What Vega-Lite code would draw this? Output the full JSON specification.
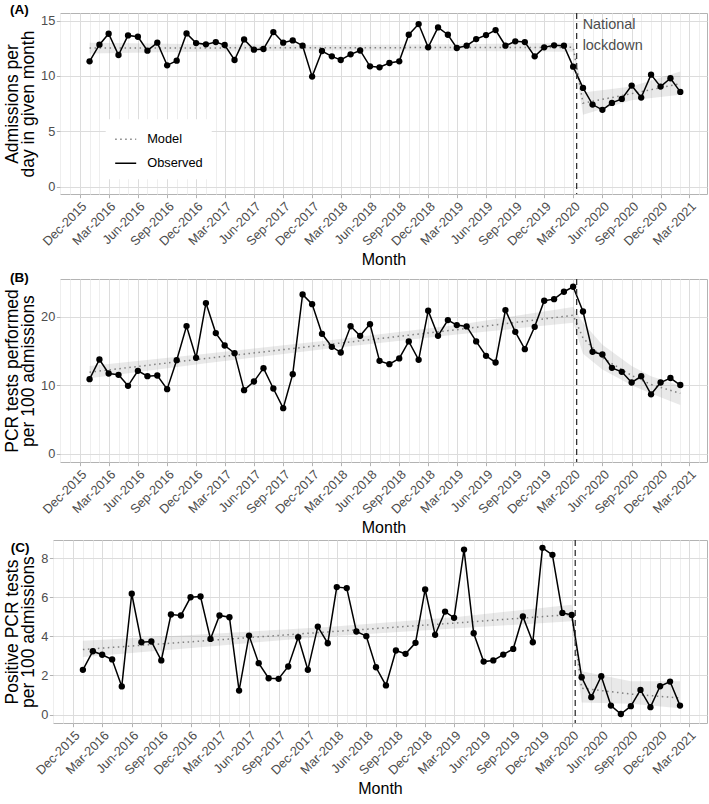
{
  "$schema": "https://vega.github.io/schema/vega-lite/v6.json",
  "padding": {"left": 2, "top": 2, "right": 0, "bottom": 0},
  "background": "white",
  "config": {
    "font": "Liberation Sans",
    "view": {"stroke": "#b3b3b3", "strokeWidth": 1},
    "axis": {
      "labelFont": "Liberation Sans", "labelFontSize": 12.8, "labelColor": "#4d4d4d",
      "titleFont": "Liberation Sans", "titleFontSize": 16, "titleFontWeight": "normal", "titleColor": "#000000",
      "domain": false, "tickColor": "#b3b3b3", "tickSize": 3.7, "tickWidth": 1,
      "labelOverlap": false, "labelFlush": false
    },
    "axisY": {"titleFontSize": 17.5, "titleLineHeight": 16.5, "titlePadding": 3, "labelPadding": 1.5},
    "title": {"font": "Liberation Sans", "fontSize": 13.5, "fontWeight": "bold", "color": "#000000", "anchor": "start", "frame": "group", "baseline": "middle"}
  },
  "datasets": {
    "obs": [
      {"date": "2016-01-01", "admissions": 11.32, "tests": 10.87, "positive": 2.29},
      {"date": "2016-02-01", "admissions": 12.82, "tests": 13.75, "positive": 3.24},
      {"date": "2016-03-01", "admissions": 13.81, "tests": 11.7, "positive": 3.06},
      {"date": "2016-04-01", "admissions": 11.89, "tests": 11.51, "positive": 2.82},
      {"date": "2016-05-01", "admissions": 13.66, "tests": 9.9, "positive": 1.44},
      {"date": "2016-06-01", "admissions": 13.54, "tests": 12.09, "positive": 6.18},
      {"date": "2016-07-01", "admissions": 12.28, "tests": 11.31, "positive": 3.7},
      {"date": "2016-08-01", "admissions": 13.0, "tests": 11.41, "positive": 3.74},
      {"date": "2016-09-01", "admissions": 10.96, "tests": 9.41, "positive": 2.77},
      {"date": "2016-10-01", "admissions": 11.38, "tests": 13.65, "positive": 5.12},
      {"date": "2016-11-01", "admissions": 13.84, "tests": 18.62, "positive": 5.07},
      {"date": "2016-12-01", "admissions": 12.97, "tests": 13.99, "positive": 6.0},
      {"date": "2017-01-01", "admissions": 12.85, "tests": 21.98, "positive": 6.04},
      {"date": "2017-02-01", "admissions": 13.06, "tests": 17.6, "positive": 3.87},
      {"date": "2017-03-01", "admissions": 12.79, "tests": 15.79, "positive": 5.07},
      {"date": "2017-04-01", "admissions": 11.44, "tests": 14.67, "positive": 4.98},
      {"date": "2017-05-01", "admissions": 13.3, "tests": 9.27, "positive": 1.23},
      {"date": "2017-06-01", "admissions": 12.37, "tests": 10.53, "positive": 4.04},
      {"date": "2017-07-01", "admissions": 12.43, "tests": 12.48, "positive": 2.63},
      {"date": "2017-08-01", "admissions": 13.96, "tests": 9.51, "positive": 1.86},
      {"date": "2017-09-01", "admissions": 13.0, "tests": 6.64, "positive": 1.83},
      {"date": "2017-10-01", "admissions": 13.21, "tests": 11.6, "positive": 2.46},
      {"date": "2017-11-01", "admissions": 12.73, "tests": 23.25, "positive": 3.96},
      {"date": "2017-12-01", "admissions": 9.94, "tests": 21.83, "positive": 2.29},
      {"date": "2018-01-01", "admissions": 12.25, "tests": 17.5, "positive": 4.5},
      {"date": "2018-02-01", "admissions": 11.77, "tests": 15.6, "positive": 3.65},
      {"date": "2018-03-01", "admissions": 11.44, "tests": 14.77, "positive": 6.52},
      {"date": "2018-04-01", "admissions": 11.95, "tests": 18.6, "positive": 6.47},
      {"date": "2018-05-01", "admissions": 12.3, "tests": 17.2, "positive": 4.25},
      {"date": "2018-06-01", "admissions": 10.87, "tests": 18.91, "positive": 4.01},
      {"date": "2018-07-01", "admissions": 10.78, "tests": 13.55, "positive": 2.42},
      {"date": "2018-08-01", "admissions": 11.17, "tests": 13.07, "positive": 1.49},
      {"date": "2018-09-01", "admissions": 11.32, "tests": 13.9, "positive": 3.28},
      {"date": "2018-10-01", "admissions": 13.72, "tests": 16.38, "positive": 3.11},
      {"date": "2018-11-01", "admissions": 14.68, "tests": 13.7, "positive": 3.67},
      {"date": "2018-12-01", "admissions": 12.58, "tests": 20.86, "positive": 6.4},
      {"date": "2019-01-01", "admissions": 14.38, "tests": 17.2, "positive": 4.08},
      {"date": "2019-02-01", "admissions": 13.72, "tests": 19.5, "positive": 5.27},
      {"date": "2019-03-01", "admissions": 12.52, "tests": 18.77, "positive": 4.95},
      {"date": "2019-04-01", "admissions": 12.73, "tests": 18.57, "positive": 8.44},
      {"date": "2019-05-01", "admissions": 13.33, "tests": 16.38, "positive": 4.16},
      {"date": "2019-06-01", "admissions": 13.69, "tests": 14.28, "positive": 2.71},
      {"date": "2019-07-01", "admissions": 14.14, "tests": 13.31, "positive": 2.77},
      {"date": "2019-08-01", "admissions": 12.73, "tests": 20.96, "positive": 3.07},
      {"date": "2019-09-01", "admissions": 13.12, "tests": 17.79, "positive": 3.36},
      {"date": "2019-10-01", "admissions": 13.06, "tests": 15.26, "positive": 5.02},
      {"date": "2019-11-01", "admissions": 11.77, "tests": 18.52, "positive": 3.7},
      {"date": "2019-12-01", "admissions": 12.58, "tests": 22.32, "positive": 8.53},
      {"date": "2020-01-01", "admissions": 12.76, "tests": 22.56, "positive": 8.17},
      {"date": "2020-02-01", "admissions": 12.73, "tests": 23.64, "positive": 5.2},
      {"date": "2020-03-01", "admissions": 10.84, "tests": 24.37, "positive": 5.1},
      {"date": "2020-04-01", "admissions": 8.92, "tests": 20.76, "positive": 1.91},
      {"date": "2020-05-01", "admissions": 7.42, "tests": 14.87, "positive": 0.89},
      {"date": "2020-06-01", "admissions": 6.94, "tests": 14.48, "positive": 1.96},
      {"date": "2020-07-01", "admissions": 7.57, "tests": 12.53, "positive": 0.46},
      {"date": "2020-08-01", "admissions": 7.93, "tests": 11.95, "positive": 0.03},
      {"date": "2020-09-01", "admissions": 9.13, "tests": 10.39, "positive": 0.43},
      {"date": "2020-10-01", "admissions": 8.05, "tests": 11.3, "positive": 1.26},
      {"date": "2020-11-01", "admissions": 10.12, "tests": 8.66, "positive": 0.38},
      {"date": "2020-12-01", "admissions": 9.04, "tests": 10.39, "positive": 1.45},
      {"date": "2021-01-01", "admissions": 9.79, "tests": 11.04, "positive": 1.69},
      {"date": "2021-02-01", "admissions": 8.56, "tests": 10.02, "positive": 0.46}
    ],
    "modelA": [
      {"date": "2016-01-01", "fit": 12.52, "lo": 12.03, "hi": 13.0},
      {"date": "2017-01-01", "fit": 12.53, "lo": 12.2, "hi": 12.86},
      {"date": "2018-02-01", "fit": 12.55, "lo": 12.3, "hi": 12.8},
      {"date": "2019-03-01", "fit": 12.56, "lo": 12.25, "hi": 12.87},
      {"date": "2020-03-01", "fit": 12.58, "lo": 12.18, "hi": 12.98},
      {"date": "2020-04-01", "fit": 7.55, "lo": 6.5, "hi": 8.5},
      {"date": "2020-09-01", "fit": 8.4, "lo": 7.8, "hi": 9.05},
      {"date": "2021-02-01", "fit": 9.3, "lo": 8.3, "hi": 10.4}
    ],
    "modelB": [
      {"date": "2016-01-01", "fit": 11.9, "lo": 11.0, "hi": 12.8},
      {"date": "2017-01-01", "fit": 13.9, "lo": 13.2, "hi": 14.6},
      {"date": "2018-02-01", "fit": 16.0, "lo": 15.4, "hi": 16.6},
      {"date": "2019-03-01", "fit": 18.1, "lo": 17.4, "hi": 18.8},
      {"date": "2020-03-01", "fit": 20.2, "lo": 19.1, "hi": 21.4},
      {"date": "2020-04-01", "fit": 16.9, "lo": 14.6, "hi": 19.1},
      {"date": "2020-06-01", "fit": 14.0, "lo": 12.3, "hi": 15.9},
      {"date": "2020-09-01", "fit": 11.4, "lo": 10.0, "hi": 12.8},
      {"date": "2020-11-01", "fit": 10.1, "lo": 8.8, "hi": 11.3},
      {"date": "2021-02-01", "fit": 8.8, "lo": 7.1, "hi": 9.9}
    ],
    "modelC": [
      {"date": "2016-01-01", "fit": 3.33, "lo": 2.95, "hi": 3.78},
      {"date": "2017-01-01", "fit": 3.76, "lo": 3.45, "hi": 4.1},
      {"date": "2018-02-01", "fit": 4.23, "lo": 4.0, "hi": 4.48},
      {"date": "2019-03-01", "fit": 4.68, "lo": 4.4, "hi": 4.98},
      {"date": "2020-03-01", "fit": 5.12, "lo": 4.78, "hi": 5.62},
      {"date": "2020-04-01", "fit": 1.35, "lo": 0.62, "hi": 2.22},
      {"date": "2020-09-01", "fit": 1.05, "lo": 0.55, "hi": 1.7},
      {"date": "2021-02-01", "fit": 0.85, "lo": 0.32, "hi": 1.7}
    ],
    "lockdown": [{"date": "2020-03-12"}]
  },
  "bounds": "full",
  "spacing": 1,
  "resolve": {"scale": {"color": "independent"}, "legend": {"color": "independent"}},
  "vconcat": [
    {
      "bounds": "flush",
      "spacing": 0,
      "resolve": {"scale": {"color": "independent"}, "legend": {"color": "independent"}},
      "hconcat": [
        {"width": 7, "height": 10, "data": {"values": []}, "mark": "point", "view": {"stroke": null}},
        {
          "width": 647, "height": 181,
          "title": {"text": "(A)", "dx": -50, "offset": -4.25},
          "encoding": {
            "x": {"field": "date", "type": "temporal", "title": "Month",
              "scale": {"type": "utc", "domain": [{"year": 2015, "month": 9, "date": 30, "utc": true}, {"year": 2021, "month": 4, "date": 26, "utc": true}]},
              "axis": {"tickCount": {"interval": "month", "step": 1},
                "labelExpr": "utcmonth(datum.value) % 3 == 2 ? utcFormat(datum.value, '%b-%Y') : ''",
                "labelAngle": -45, "labelAlign": "right", "labelBaseline": "top", "labelPadding": 2, "titlePadding": 4,
                "tickOpacity": {"condition": {"test": "utcmonth(datum.value) % 3 != 2", "value": 0}, "value": 1},
                "gridColor": {"condition": {"test": "utcmonth(datum.value) % 3 == 2", "value": "#dcdcdc"}, "value": "#eeeeee"}}}
          },
          "layer": [
            {
              "data": {"name": "modelA"},
              "mark": {"type": "area", "color": "#999999", "opacity": 0.22},
              "encoding": {
                "y": {"field": "lo", "type": "quantitative", "title": ["Admissions per", "day in given month"],
                  "scale": {"domain": [-0.65, 15.68], "nice": false, "zero": false},
                  "axis": {
                    "values": [0, 2.5, 5, 7.5, 10, 12.5, 15],
                    "labelExpr": "datum.value % 5 == 0 ? datum.label : ''",
                    "tickOpacity": {"condition": {"test": "datum.value % 5 != 0", "value": 0}, "value": 1},
                    "gridColor": {"condition": {"test": "datum.value % 5 == 0", "value": "#dcdcdc"}, "value": "#eeeeee"}}},
                "y2": {"field": "hi"}
              }
            },
            {
              "data": {"name": "modelA"},
              "mark": {"type": "line", "strokeDash": [1.5, 3.5], "strokeWidth": 1.5},
              "encoding": {
                "y": {"field": "fit", "type": "quantitative", "title": ["Admissions per", "day in given month"]},
                "color": {"datum": "Model", "type": "nominal",
                  "scale": {"domain": ["Model", "Observed"], "range": ["#7f7f7f", "#000000"]},
                  "legend": {"orient": "none", "legendX": 45.7, "legendY": 106.3, "title": null, "fillColor": "white", "padding": 8.5,
                    "symbolType": "stroke", "symbolSize": 441, "symbolStrokeWidth": 1.5,
                    "labelFont": "Liberation Sans", "labelFontSize": 12.8, "labelColor": "#000000", "labelOffset": 10, "rowPadding": 5,
                    "encode": {"symbols": {"update": {"strokeDash": {"signal": "datum.value === 'Model' ? [1.5, 3.5] : [1, 0]"}}}}}}
              }
            },
            {
              "data": {"name": "obs"},
              "mark": {"type": "line", "strokeWidth": 1.5},
              "encoding": {
                "y": {"field": "admissions", "type": "quantitative", "title": ["Admissions per", "day in given month"]},
                "color": {"datum": "Observed", "type": "nominal"}
              }
            },
            {
              "data": {"name": "obs"},
              "mark": {"type": "point", "filled": true, "size": 40, "opacity": 1, "color": "#000000"},
              "encoding": {
                "y": {"field": "admissions", "type": "quantitative", "title": ["Admissions per", "day in given month"]}
              }
            },
            {
              "data": {"name": "lockdown"},
              "mark": {"type": "rule", "strokeDash": [6, 4], "color": "#333333", "strokeWidth": 1.3},
              "encoding": {}
            },
            {
              "data": {"name": "lockdown"},
              "mark": {"type": "text", "text": ["National", "lockdown"], "align": "left", "baseline": "alphabetic", "dx": 6, "font": "Liberation Sans", "fontSize": 14.4, "lineHeight": 21, "color": "#4d4d4d"},
              "encoding": {
                "y": {"datum": 14.2, "type": "quantitative", "title": ["Admissions per", "day in given month"]}
              }
            }
          ]
        }
      ]
    },
    {
      "bounds": "flush",
      "spacing": 0,
      "hconcat": [
        {"width": 7, "height": 10, "data": {"values": []}, "mark": "point", "view": {"stroke": null}},
        {
          "width": 647, "height": 183,
          "title": {"text": "(B)", "dx": -50, "offset": -6.25},
          "encoding": {
            "x": {"field": "date", "type": "temporal", "title": "Month",
              "scale": {"type": "utc", "domain": [{"year": 2015, "month": 9, "date": 30, "utc": true}, {"year": 2021, "month": 4, "date": 26, "utc": true}]},
              "axis": {"tickCount": {"interval": "month", "step": 1},
                "labelExpr": "utcmonth(datum.value) % 3 == 2 ? utcFormat(datum.value, '%b-%Y') : ''",
                "labelAngle": -45, "labelAlign": "right", "labelBaseline": "top", "labelPadding": 2, "titlePadding": 4,
                "tickOpacity": {"condition": {"test": "utcmonth(datum.value) % 3 != 2", "value": 0}, "value": 1},
                "gridColor": {"condition": {"test": "utcmonth(datum.value) % 3 == 2", "value": "#dcdcdc"}, "value": "#eeeeee"}}}
          },
          "layer": [
            {
              "data": {"name": "modelB"},
              "mark": {"type": "area", "color": "#999999", "opacity": 0.22},
              "encoding": {
                "y": {"field": "lo", "type": "quantitative", "title": ["PCR tests performed", "per 100 admissions"],
                  "scale": {"domain": [-1.22, 25.5], "nice": false, "zero": false},
                  "axis": {
                    "values": [0, 2.5, 5, 7.5, 10, 12.5, 15, 17.5, 20, 22.5, 25],
                    "labelExpr": "datum.value % 5 == 0 ? datum.label : ''",
                    "tickOpacity": {"condition": {"test": "datum.value % 5 != 0", "value": 0}, "value": 1},
                    "gridColor": {"condition": {"test": "datum.value % 5 == 0", "value": "#dcdcdc"}, "value": "#eeeeee"}}},
                "y2": {"field": "hi"}
              }
            },
            {
              "data": {"name": "modelB"},
              "mark": {"type": "line", "strokeDash": [1.5, 3.5], "strokeWidth": 1.5, "color": "#7f7f7f"},
              "encoding": {"y": {"field": "fit", "type": "quantitative", "title": ["PCR tests performed", "per 100 admissions"]}}
            },
            {
              "data": {"name": "obs"},
              "mark": {"type": "line", "strokeWidth": 1.5, "color": "#000000"},
              "encoding": {"y": {"field": "tests", "type": "quantitative", "title": ["PCR tests performed", "per 100 admissions"]}}
            },
            {
              "data": {"name": "obs"},
              "mark": {"type": "point", "filled": true, "size": 40, "opacity": 1, "color": "#000000"},
              "encoding": {"y": {"field": "tests", "type": "quantitative", "title": ["PCR tests performed", "per 100 admissions"]}}
            },
            {
              "data": {"name": "lockdown"},
              "mark": {"type": "rule", "strokeDash": [6, 4], "color": "#333333", "strokeWidth": 1.3},
              "encoding": {}
            }
          ]
        }
      ]
    },
    {
      "width": 654, "height": 183,
      "title": {"text": "(C)", "dx": -42.3, "offset": -14.75},
      "encoding": {
        "x": {"field": "date", "type": "temporal", "title": "Month",
          "scale": {"type": "utc", "domain": [{"year": 2015, "month": 9, "date": 30, "utc": true}, {"year": 2021, "month": 4, "date": 26, "utc": true}]},
          "axis": {"tickCount": {"interval": "month", "step": 1},
            "labelExpr": "utcmonth(datum.value) % 3 == 2 ? utcFormat(datum.value, '%b-%Y') : ''",
            "labelAngle": -45, "labelAlign": "right", "labelBaseline": "top", "labelPadding": 2, "titlePadding": 4,
            "tickOpacity": {"condition": {"test": "utcmonth(datum.value) % 3 != 2", "value": 0}, "value": 1},
            "gridColor": {"condition": {"test": "utcmonth(datum.value) % 3 == 2", "value": "#dcdcdc"}, "value": "#eeeeee"}}}
      },
      "layer": [
        {
          "data": {"name": "modelC"},
          "mark": {"type": "area", "color": "#999999", "opacity": 0.22},
          "encoding": {
            "y": {"field": "lo", "type": "quantitative", "title": ["Positive PCR tests", "per 100 admissions"],
              "scale": {"domain": [-0.43, 8.93], "nice": false, "zero": false},
              "axis": {
                "values": [0, 1, 2, 3, 4, 5, 6, 7, 8],
                "labelExpr": "datum.value % 2 == 0 ? datum.label : ''",
                "tickOpacity": {"condition": {"test": "datum.value % 2 != 0", "value": 0}, "value": 1},
                "gridColor": {"condition": {"test": "datum.value % 2 == 0", "value": "#dcdcdc"}, "value": "#eeeeee"}}},
            "y2": {"field": "hi"}
          }
        },
        {
          "data": {"name": "modelC"},
          "mark": {"type": "line", "strokeDash": [1.5, 3.5], "strokeWidth": 1.5, "color": "#7f7f7f"},
          "encoding": {"y": {"field": "fit", "type": "quantitative", "title": ["Positive PCR tests", "per 100 admissions"]}}
        },
        {
          "data": {"name": "obs"},
          "mark": {"type": "line", "strokeWidth": 1.5, "color": "#000000"},
          "encoding": {"y": {"field": "positive", "type": "quantitative", "title": ["Positive PCR tests", "per 100 admissions"]}}
        },
        {
          "data": {"name": "obs"},
          "mark": {"type": "point", "filled": true, "size": 40, "opacity": 1, "color": "#000000"},
          "encoding": {"y": {"field": "positive", "type": "quantitative", "title": ["Positive PCR tests", "per 100 admissions"]}}
        },
        {
          "data": {"name": "lockdown"},
          "mark": {"type": "rule", "strokeDash": [6, 4], "color": "#333333", "strokeWidth": 1.3},
          "encoding": {}
        }
      ]
    }
  ]
}
